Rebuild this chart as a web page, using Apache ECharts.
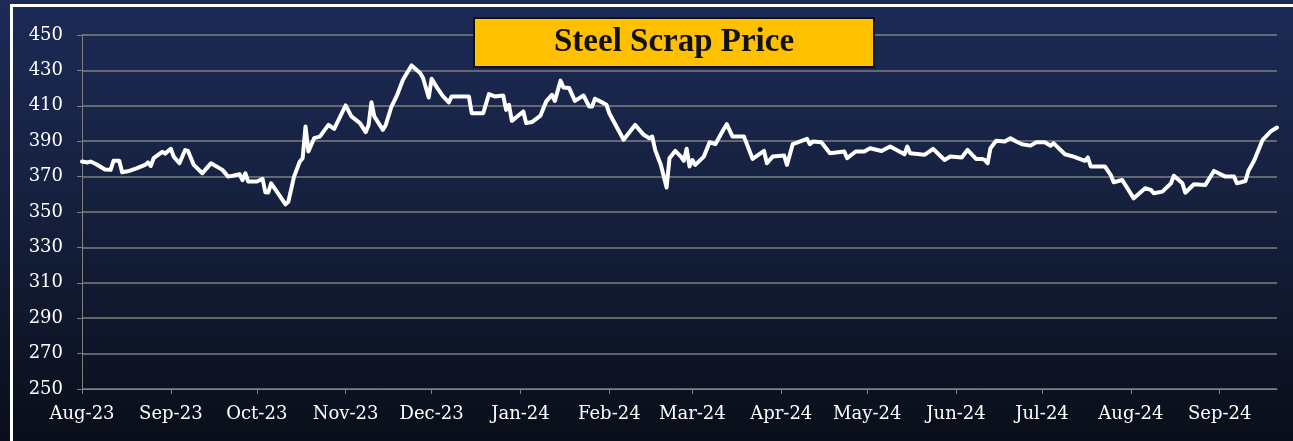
<!DOCTYPE html>
<html>
<head>
<meta charset="utf-8">
<title>Steel Scrap Price</title>
<script src="https://cdn.jsdelivr.net/npm/echarts@6/dist/echarts.min.js"></script>
<style>
  html, body { margin: 0; padding: 0; background: #121a33; }
  #chart { width: 1293px; height: 441px; }
</style>
</head>
<body>
<div id="chart"></div>
<script>
// values
const dates = [
  '2023-08-01', '2023-08-03', '2023-08-04', '2023-08-06', '2023-08-09', '2023-08-11', '2023-08-12', '2023-08-14',
  '2023-08-15', '2023-08-17', '2023-08-20', '2023-08-23', '2023-08-24', '2023-08-25', '2023-08-26', '2023-08-29',
  '2023-08-30', '2023-09-01', '2023-09-02', '2023-09-04', '2023-09-06', '2023-09-07', '2023-09-09', '2023-09-12',
  '2023-09-13', '2023-09-15', '2023-09-19', '2023-09-21', '2023-09-23', '2023-09-25', '2023-09-26', '2023-09-27',
  '2023-09-28', '2023-10-01', '2023-10-03', '2023-10-04', '2023-10-05', '2023-10-06', '2023-10-08', '2023-10-11',
  '2023-10-12', '2023-10-14', '2023-10-16', '2023-10-17', '2023-10-18', '2023-10-19', '2023-10-21', '2023-10-23',
  '2023-10-26', '2023-10-28', '2023-11-01', '2023-11-03', '2023-11-06', '2023-11-08', '2023-11-09', '2023-11-10',
  '2023-11-11', '2023-11-14', '2023-11-15', '2023-11-17', '2023-11-19', '2023-11-21', '2023-11-24', '2023-11-27',
  '2023-11-28', '2023-11-30', '2023-12-01', '2023-12-03', '2023-12-05', '2023-12-07', '2023-12-08', '2023-12-14',
  '2023-12-15', '2023-12-19', '2023-12-21', '2023-12-23', '2023-12-26', '2023-12-27', '2023-12-28', '2023-12-29',
  '2024-01-02', '2024-01-03', '2024-01-05', '2024-01-08', '2024-01-10', '2024-01-12', '2024-01-13', '2024-01-15',
  '2024-01-16', '2024-01-18', '2024-01-20', '2024-01-23', '2024-01-25', '2024-01-26', '2024-01-27', '2024-01-30',
  '2024-01-31', '2024-02-01', '2024-02-06', '2024-02-10', '2024-02-13', '2024-02-15', '2024-02-16', '2024-02-17',
  '2024-02-19', '2024-02-21', '2024-02-22', '2024-02-24', '2024-02-26', '2024-02-27', '2024-02-28', '2024-02-29',
  '2024-03-01', '2024-03-02', '2024-03-05', '2024-03-07', '2024-03-09', '2024-03-12', '2024-03-13', '2024-03-15',
  '2024-03-19', '2024-03-22', '2024-03-26', '2024-03-27', '2024-03-29', '2024-04-02', '2024-04-03', '2024-04-05',
  '2024-04-06', '2024-04-10', '2024-04-11', '2024-04-12', '2024-04-15', '2024-04-18', '2024-04-23', '2024-04-24',
  '2024-04-27', '2024-04-30', '2024-05-02', '2024-05-06', '2024-05-09', '2024-05-14', '2024-05-15', '2024-05-16',
  '2024-05-21', '2024-05-24', '2024-05-28', '2024-05-30', '2024-06-03', '2024-06-05', '2024-06-08', '2024-06-10',
  '2024-06-11', '2024-06-12', '2024-06-13', '2024-06-15', '2024-06-18', '2024-06-20', '2024-06-22', '2024-06-24',
  '2024-06-27', '2024-06-29', '2024-07-02', '2024-07-04', '2024-07-05', '2024-07-09', '2024-07-12', '2024-07-16',
  '2024-07-17', '2024-07-18', '2024-07-23', '2024-07-25', '2024-07-26', '2024-07-29', '2024-08-02', '2024-08-06',
  '2024-08-08', '2024-08-09', '2024-08-12', '2024-08-15', '2024-08-16', '2024-08-19', '2024-08-20', '2024-08-23',
  '2024-08-27', '2024-08-30', '2024-09-03', '2024-09-06', '2024-09-07', '2024-09-10', '2024-09-11', '2024-09-13',
  '2024-09-16', '2024-09-19', '2024-09-21'
];

const prices = [
  378.5, 378, 378.5, 377, 374, 373.8, 378.9, 378.9,
  372.5, 373, 374.7, 376.6, 378, 376, 380.4, 384,
  383, 385.7, 381.3, 377.5, 385, 384.5, 376.6, 371.9,
  373.8, 377.5, 373.8, 370, 370.6, 371.3, 368, 371.9,
  367.2, 367.2, 368.7, 361.1, 361, 366.2, 361.5, 354.3,
  355.8, 370, 378.5, 380.4, 398.3, 384.2, 391.7, 392.6,
  399.2, 397, 410.2, 404, 400.2, 395.1, 399.2, 412,
  404, 396.4, 399.2, 409.6, 416.2, 424.7, 432.8, 428.5,
  425.7, 414.7, 425.3, 420, 415.3, 411.9, 415.3, 415.3,
  405.8, 405.8, 416.6, 415.3, 415.8, 407.7, 410.6, 401.5,
  406.8, 400.2, 400.8, 404.5, 412.5, 416.2, 412.8, 424.2,
  420.4, 420, 412.8, 415.8, 409.6, 409.6, 414, 411.5,
  410.6, 405.8, 390.8, 399.2, 393.6, 391.7, 392.6, 385.1,
  376.6, 363.8, 380.4, 384.5, 381.3, 378.9, 385.7, 375.7,
  379.4, 376.6, 381.3, 389.4, 388.3, 397, 399.6, 392.6,
  392.6, 380, 384.5, 377.5, 381.3, 381.9, 376.6, 388.3,
  388.9, 391.3, 388.3, 389.8, 389.4, 383.2, 384.2, 380.4,
  384.2, 384.2, 386, 384.5, 387, 382.6, 387, 383.2,
  382.3, 385.7, 379.4, 381.3, 380.8, 385.1, 380, 380,
  379.4, 377.5, 386, 390.2, 389.8, 391.7, 389.8, 388.3,
  387.5, 389.4, 389.4, 387.4, 388.9, 382.6, 381.3, 378.9,
  380.8, 375.7, 375.7, 370.9, 366.8, 368.1, 357.7, 363.4,
  362.5, 360.6, 361.5, 366.2, 370.5, 366.2, 360.9, 365.7,
  365.3, 373.2, 370, 370, 366.2, 367.5, 373.2, 378.9,
  390.8, 395.8, 397.7
];

// month ticks shown on the x axis
const monthTicks = [
  '2023-08-01', '2023-09-01', '2023-10-01', '2023-11-01', '2023-12-01', '2024-01-01', '2024-02-01',
  '2024-03-01', '2024-04-01', '2024-05-01', '2024-06-01', '2024-07-01', '2024-08-01', '2024-09-01'
];
const monthNames = ['Jan', 'Feb', 'Mar', 'Apr', 'May', 'Jun', 'Jul', 'Aug', 'Sep', 'Oct', 'Nov', 'Dec'];

const axisFont = 'DejaVu Serif';
const gridColor = '#7f7f7f';

// plain day stamps (UTC) so the x axis can be a value axis with fixed month ticks
const toStamp = s => {
    const p = s.split('-').map(Number);
    return Date.UTC(p[0], p[1] - 1, p[2]);
};
const tickValues = monthTicks.map(toStamp);

const chart = echarts.init(document.getElementById('chart'));

chart.setOption({
    animation: false,
    backgroundColor: {
        type: 'linear', x: 0, y: 0, x2: 0, y2: 1,
        colorStops: [
            { offset: 0, color: '#1c2a56' },
            { offset: 0.45, color: '#16213f' },
            { offset: 1, color: '#0a0e1a' }
        ]
    },
    title: {
        text: 'Steel Scrap Price',
        left: 474,
        top: 18,
        padding: [8, 80, 8, 80],
        backgroundColor: '#FFC000',
        borderColor: '#111111',
        borderWidth: 2,
        textStyle: {
            fontFamily: 'Liberation Serif',
            fontWeight: 'bold',
            fontSize: 33,
            color: '#111111',
            lineHeight: 33
        }
    },
    graphic: [{
        type: 'rect',
        silent: true,
        shape: { x: 11.5, y: 5.5, width: 1400, height: 600 },
        style: { fill: null, stroke: '#ffffff', lineWidth: 3 }
    }],
    grid: { left: 82, right: 16, top: 35, bottom: 52 },
    xAxis: {
        type: 'value',
        min: toStamp(dates[0]),
        max: toStamp(dates[dates.length - 1]),
        axisLine: { show: true, lineStyle: { color: gridColor, width: 1 } },
        axisTick: { show: true, length: 5, lineStyle: { color: gridColor }, customValues: tickValues },
        splitLine: { show: false },
        axisLabel: {
            customValues: tickValues,
            color: '#ffffff',
            fontFamily: axisFont,
            fontSize: 18,
            margin: 16,
            formatter: v => {
                const d = new Date(v);
                return monthNames[d.getUTCMonth()] + '-' + String(d.getUTCFullYear()).slice(2);
            }
        }
    },
    yAxis: {
        type: 'value',
        min: 250,
        max: 450,
        interval: 20,
        axisLine: { show: true, lineStyle: { color: gridColor, width: 1 } },
        axisTick: { show: true, length: 5, lineStyle: { color: gridColor } },
        splitLine: { show: true, lineStyle: { color: gridColor, width: 1.5 } },
        axisLabel: {
            color: '#ffffff',
            fontFamily: axisFont,
            fontSize: 18,
            margin: 19
        }
    },
    series: [{
        name: 'Steel Scrap Price',
        type: 'line',
        data: dates.map((d, i) => [toStamp(d), prices[i]]),
        showSymbol: false,
        smooth: false,
        lineStyle: { color: '#ffffff', width: 4, join: 'round', cap: 'round' },
        z: 5
    }]
});
</script>
</body>
</html>
